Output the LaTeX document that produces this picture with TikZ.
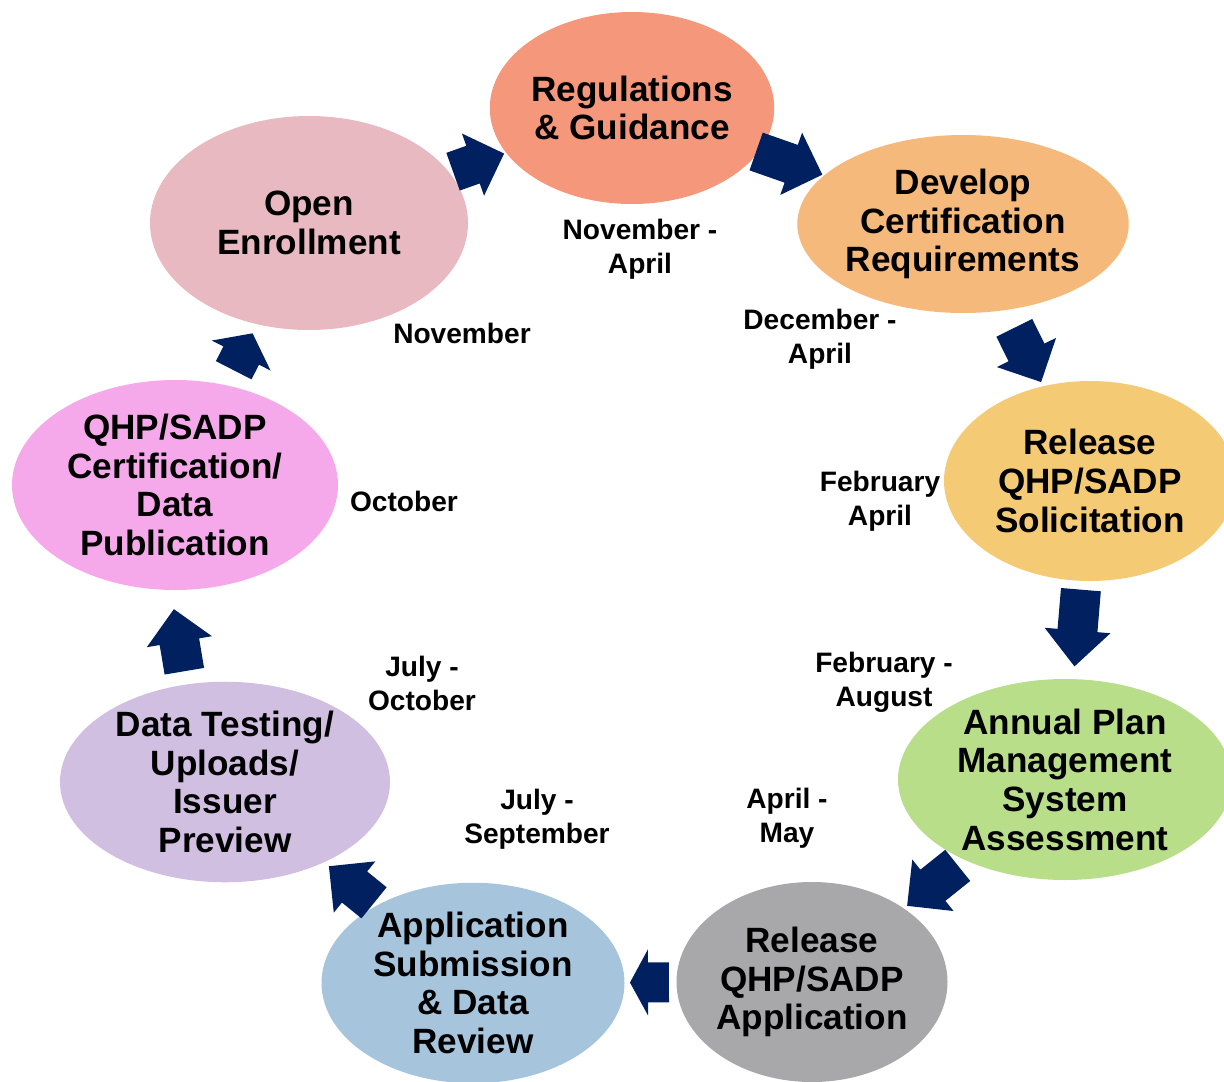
\documentclass[tikz,border=0pt]{standalone}
\usepackage{fontspec}
\setmainfont{Liberation Sans}
\usepackage{xcolor}
\usetikzlibrary{shapes.geometric, calc}

\definecolor{regcol}{RGB}{245,151,123}
\definecolor{devcol}{RGB}{245,185,123}
\definecolor{solcol}{RGB}{245,202,117}
\definecolor{apmcol}{RGB}{185,222,138}
\definecolor{relcol}{RGB}{168,168,170}
\definecolor{subcol}{RGB}{166,197,220}
\definecolor{testcol}{RGB}{208,191,225}
\definecolor{certcol}{RGB}{246,169,234}
\definecolor{opencol}{RGB}{232,185,193}
\definecolor{navyblue}{RGB}{0,32,96}

% block arrow from stage #1 towards stage #2, between fractions #3 and #4, head length #5
\newcommand{\blkarrow}[5]{%
    \coordinate (tl) at ($(#1)!#3!(#2)$);
    \coordinate (tp) at ($(#1)!#4!(#2)$);
    \coordinate (hb) at ($(tp)!#5!(tl)$);
    \fill[navyblue] ($(tl)!0.4cm!90:(tp)$) -- ($(hb)!0.4cm!-90:(tl)$) -- ($(hb)!0.66cm!-90:(tl)$)
        -- (tp) -- ($(hb)!0.66cm!90:(tl)$) -- ($(hb)!0.4cm!90:(tl)$) -- ($(tl)!0.4cm!-90:(tp)$) -- cycle;
}

\begin{document}
\begin{tikzpicture}[
        stage/.style={ellipse, inner sep=0pt, align=center, font=\fontsize{20}{22}\selectfont\bfseries},
        month/.style={align=center, inner sep=0pt, font=\fontsize{16}{19.3}\selectfont\bfseries}
    ]
    \useasboundingbox (0,0) rectangle (24.48,-21.62);
    \clip (0,0) rectangle (24.48,-21.62);

    % Stages of the cycle
    \node[stage, fill=regcol, minimum width=5.44cm, minimum height=3.84cm] (reg) at (12.64,-2.16) {Regulations\\\& Guidance};
    \node[stage, fill=devcol, minimum width=6.46cm, minimum height=3.56cm] (dev) at (19.26,-4.48) {Develop\\Certification\\Requirements};
    \node[stage, fill=solcol, minimum width=5.84cm, minimum height=4.0cm] (sol) at (21.8,-9.62) {Release\\QHP/SADP\\Solicitation};
    \node[stage, fill=apmcol, minimum width=6.68cm, minimum height=4.02cm] (apm) at (21.3,-15.59) {Annual Plan\\Management\\System\\Assessment};
    \node[stage, fill=relcol, minimum width=5.42cm, minimum height=4.0cm] (rel) at (16.24,-19.64) {Release\\QHP/SADP\\Application};
    \node[stage, fill=subcol, minimum width=6.06cm, minimum height=4.0cm] (sub) at (9.46,-19.66) {Application\\Submission\\\& Data\\Review};
    \node[stage, fill=testcol, minimum width=6.6cm, minimum height=4.0cm] (test) at (4.5,-15.64) {Data Testing/\\Uploads/\\Issuer\\Preview};
    \node[stage, fill=certcol, minimum width=6.52cm, minimum height=4.2cm] (cert) at (3.5,-9.7) {QHP/SADP\\Certification/\\Data\\Publication};
    \node[stage, fill=opencol, minimum width=6.36cm, minimum height=4.28cm] (open) at (6.18,-4.46) {Open\\Enrollment};

    % Time frames
    \node[month] (lreg) at (12.8,-4.99) {November -\\April};
    \node[month] (ldev) at (16.4,-6.79) {December -\\April};
    \node[month] (lsol) at (17.6,-10.02) {February\\April};
    \node[month] (lapm) at (17.68,-13.64) {February -\\August};
    \node[month] (lrel) at (15.74,-16.36) {April -\\May};
    \node[month] (lsub) at (10.74,-16.39) {July -\\September};
    \node[month] (ltest) at (8.44,-13.67) {July -\\October};
    \node[month] (lcert) at (8.08,-10.02) {October};
    \node[month] (lopen) at (9.24,-6.66) {November};

    % Block arrows between stages
    \blkarrow{open}{reg}{0.446}{0.604}{0.66cm}
    \blkarrow{reg}{dev}{0.375}{0.575}{0.66cm}
    \blkarrow{dev}{sol}{0.404}{0.615}{0.66cm}
    \blkarrow{sol}{apm}{0.364}{0.621}{0.72cm}
    \blkarrow{apm}{rel}{0.424}{0.624}{0.66cm}
    \blkarrow{rel}{sub}{0.422}{0.537}{0.36cm}
    \blkarrow{sub}{test}{0.399}{0.581}{0.66cm}
    \coordinate (testl) at ($(test)+(-0.44,0)$);
    \coordinate (certl) at ($(cert)+(-0.44,0)$);
    \blkarrow{testl}{certl}{0.373}{0.582}{0.66cm}
    \blkarrow{cert}{open}{0.438}{0.579}{0.5cm}

\end{tikzpicture}
\end{document}
